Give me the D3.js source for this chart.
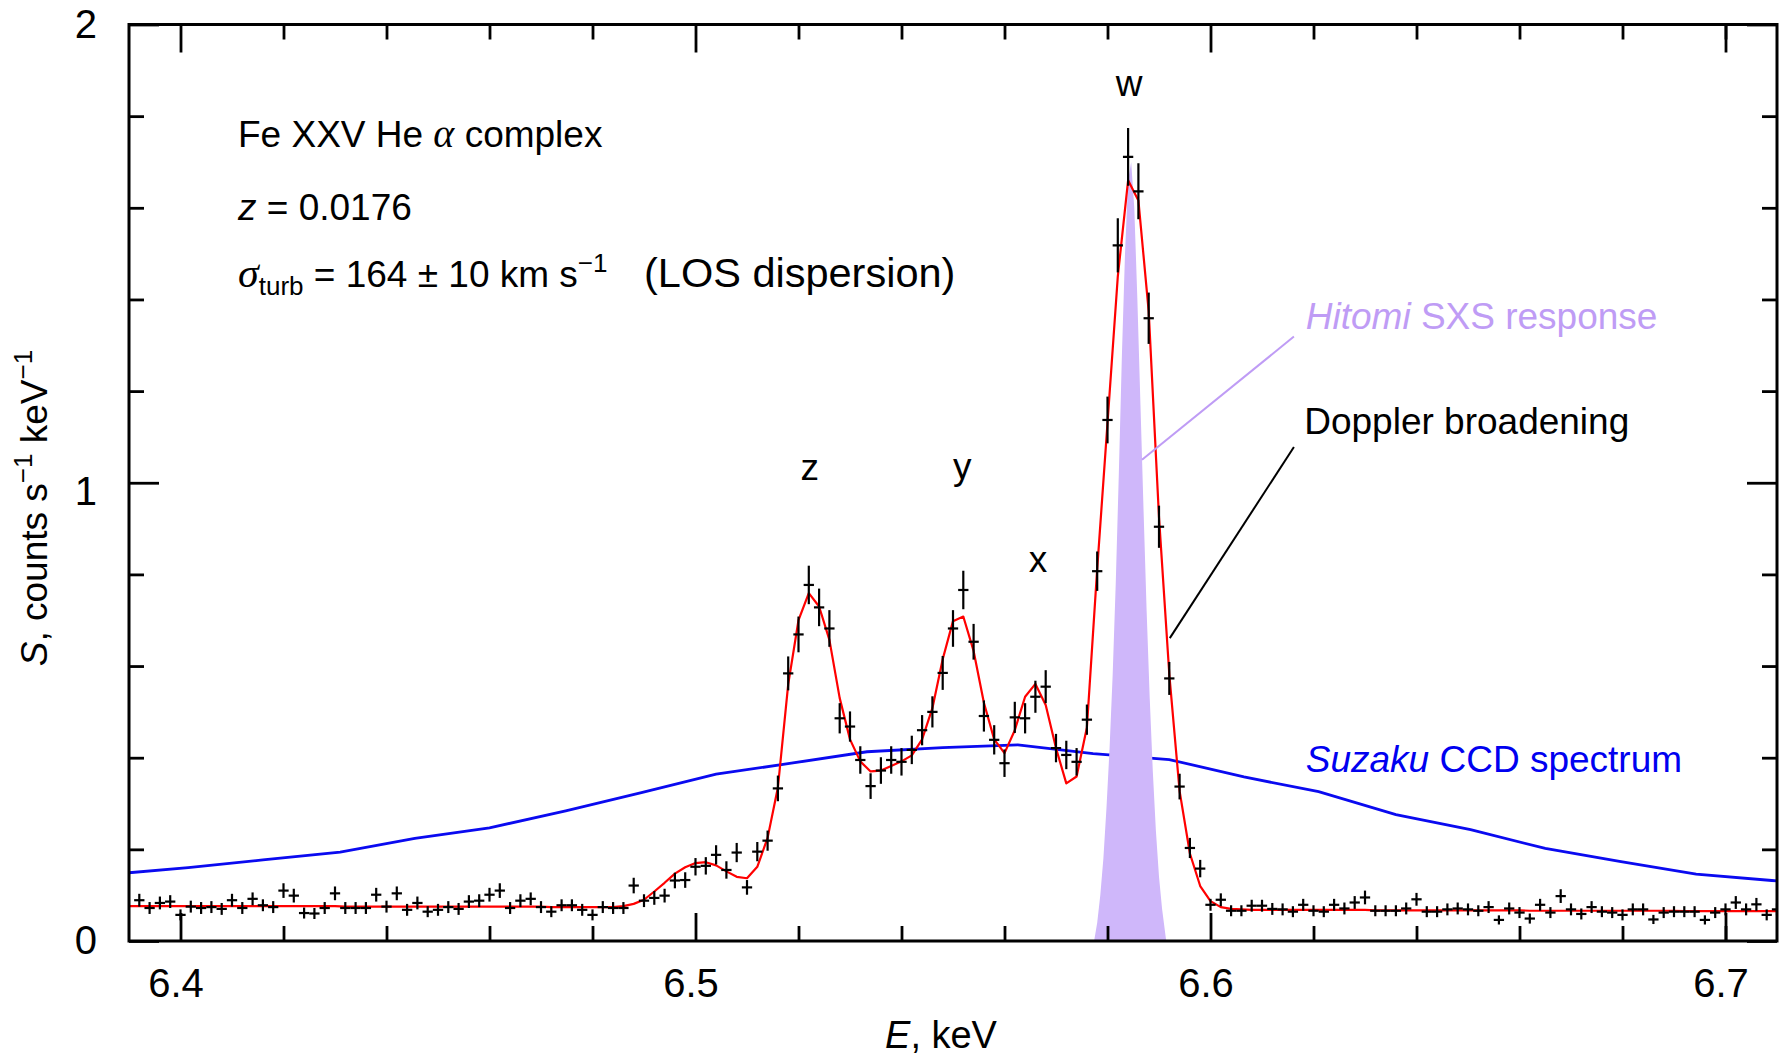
<!DOCTYPE html>
<html>
<head>
<meta charset="utf-8">
<script src="https://cdn.jsdelivr.net/npm/d3@7"></script>
<style>
  body { margin: 0; background: #fff; }
  svg { font-family: "Liberation Sans", Arial, Helvetica, sans-serif; }
</style>
</head>
<body>
<div id="chart"></div>
<script>
// bin centres (keV) of the Hitomi SXS spectrum
const energy = [
  6.390, 6.392, 6.394, 6.396, 6.398, 6.400, 6.402, 6.404, 6.406, 6.408,
  6.410, 6.412, 6.414, 6.416, 6.418, 6.420, 6.422, 6.424, 6.426, 6.428,
  6.430, 6.432, 6.434, 6.436, 6.438, 6.440, 6.442, 6.444, 6.446, 6.448,
  6.450, 6.452, 6.454, 6.456, 6.458, 6.460, 6.462, 6.464, 6.466, 6.468,
  6.470, 6.472, 6.474, 6.476, 6.478, 6.480, 6.482, 6.484, 6.486, 6.488,
  6.490, 6.492, 6.494, 6.496, 6.498, 6.500, 6.502, 6.504, 6.506, 6.508,
  6.510, 6.512, 6.514, 6.516, 6.518, 6.520, 6.522, 6.524, 6.526, 6.528,
  6.530, 6.532, 6.534, 6.536, 6.538, 6.540, 6.542, 6.544, 6.546, 6.548,
  6.550, 6.552, 6.554, 6.556, 6.558, 6.560, 6.562, 6.564, 6.566, 6.568,
  6.570, 6.572, 6.574, 6.576, 6.578, 6.580, 6.582, 6.584, 6.586, 6.588,
  6.590, 6.592, 6.594, 6.596, 6.598, 6.600, 6.602, 6.604, 6.606, 6.608,
  6.610, 6.612, 6.614, 6.616, 6.618, 6.620, 6.622, 6.624, 6.626, 6.628,
  6.630, 6.632, 6.634, 6.636, 6.638, 6.640, 6.642, 6.644, 6.646, 6.648,
  6.650, 6.652, 6.654, 6.656, 6.658, 6.660, 6.662, 6.664, 6.666, 6.668,
  6.670, 6.672, 6.674, 6.676, 6.678, 6.680, 6.682, 6.684, 6.686, 6.688,
  6.690, 6.692, 6.694, 6.696, 6.698, 6.700, 6.702, 6.704, 6.706, 6.708,
  6.710
];
// observed counts s^-1 keV^-1
const counts = [
  null,  0.089, 0.072, 0.083, 0.086, 0.057, 0.075, 0.072, 0.074, 0.070,
  0.089, 0.072, 0.092, 0.078, 0.074, 0.110, 0.099, 0.061, 0.060, 0.072,
  0.104, 0.072, 0.072, 0.072, 0.101, 0.075, 0.104, 0.068, 0.083, 0.064,
  0.068, 0.074, 0.070, 0.086, 0.088, 0.101, 0.110, 0.072, 0.088, 0.092,
  0.074, 0.064, 0.078, 0.078, 0.068, 0.057, 0.074, 0.072, 0.072, 0.121,
  0.088, 0.094, 0.099, 0.132, 0.133, 0.162, 0.164, 0.188, 0.155, 0.193,
  0.117, 0.195, 0.219, 0.333, 0.584, 0.669, 0.777, 0.728, 0.682, 0.486,
  0.468, 0.395, 0.338, 0.372, 0.395, 0.391, 0.417, 0.460, 0.500, 0.585,
  0.682, 0.766, 0.653, 0.491, 0.439, 0.388, 0.488, 0.486, 0.533, 0.555,
  0.421, 0.406, 0.391, 0.483, 0.807, 1.137, 1.518, 1.711, 1.636, 1.359,
  0.904, 0.573, 0.337, 0.203, 0.158, 0.079, 0.090, 0.066, 0.066, 0.077,
  0.077, 0.070, 0.069, 0.064, 0.079, 0.066, 0.064, 0.079, 0.071, 0.084,
  0.095, 0.066, 0.066, 0.066, 0.071, 0.091, 0.064, 0.064, 0.069, 0.071,
  0.069, 0.066, 0.074, 0.046, 0.071, 0.062, 0.049, 0.079, 0.062, 0.098,
  0.069, 0.059, 0.074, 0.064, 0.062, 0.057, 0.069, 0.069, 0.047, 0.062,
  0.064, 0.064, 0.064, 0.046, 0.062, 0.069, 0.084, 0.069, 0.080, 0.057,
  0.069
];
// 1-sigma error on counts
const errors = [
  null,  0.014, 0.013, 0.014, 0.014, 0.012, 0.013, 0.013, 0.013, 0.013,
  0.014, 0.013, 0.014, 0.013, 0.013, 0.016, 0.015, 0.012, 0.012, 0.013,
  0.015, 0.013, 0.013, 0.013, 0.015, 0.013, 0.015, 0.013, 0.014, 0.012,
  0.013, 0.013, 0.013, 0.014, 0.014, 0.015, 0.016, 0.013, 0.014, 0.014,
  0.013, 0.012, 0.013, 0.013, 0.013, 0.012, 0.013, 0.013, 0.013, 0.017,
  0.014, 0.015, 0.015, 0.017, 0.017, 0.019, 0.019, 0.021, 0.019, 0.021,
  0.016, 0.021, 0.022, 0.028, 0.037, 0.039, 0.042, 0.041, 0.040, 0.033,
  0.033, 0.030, 0.028, 0.029, 0.030, 0.030, 0.031, 0.033, 0.034, 0.037,
  0.040, 0.042, 0.039, 0.034, 0.032, 0.030, 0.034, 0.033, 0.035, 0.036,
  0.031, 0.031, 0.030, 0.033, 0.043, 0.051, 0.059, 0.063, 0.061, 0.056,
  0.046, 0.036, 0.028, 0.022, 0.019, 0.013, 0.014, 0.012, 0.012, 0.013,
  0.013, 0.013, 0.013, 0.012, 0.013, 0.012, 0.012, 0.013, 0.013, 0.014,
  0.015, 0.012, 0.012, 0.012, 0.013, 0.014, 0.012, 0.012, 0.013, 0.013,
  0.013, 0.012, 0.013, 0.010, 0.013, 0.012, 0.011, 0.013, 0.012, 0.015,
  0.013, 0.012, 0.013, 0.012, 0.012, 0.012, 0.013, 0.013, 0.010, 0.012,
  0.012, 0.012, 0.012, 0.010, 0.012, 0.013, 0.014, 0.013, 0.014, 0.012,
  0.013
];
// best-fit model with Doppler broadening
const model = [
  0.076, 0.076, 0.076, 0.076, 0.076, 0.076, 0.076, 0.076, 0.076, 0.076,
  0.076, 0.076, 0.076, 0.076, 0.076, 0.076, 0.076, 0.076, 0.076, 0.076,
  0.076, 0.075, 0.075, 0.075, 0.075, 0.075, 0.075, 0.075, 0.075, 0.075,
  0.075, 0.075, 0.075, 0.075, 0.075, 0.075, 0.075, 0.075, 0.075, 0.075,
  0.075, 0.074, 0.074, 0.074, 0.074, 0.074, 0.074, 0.074, 0.076, 0.081,
  0.090, 0.108, 0.127, 0.147, 0.161, 0.170, 0.172, 0.165, 0.152, 0.140,
  0.137, 0.162, 0.225, 0.335, 0.560, 0.700, 0.759, 0.730, 0.657, 0.530,
  0.440, 0.392, 0.370, 0.372, 0.382, 0.392, 0.405, 0.440, 0.508, 0.615,
  0.698, 0.708, 0.633, 0.520, 0.440, 0.410, 0.460, 0.533, 0.561, 0.515,
  0.421, 0.344, 0.359, 0.466, 0.812, 1.130, 1.450, 1.660, 1.616, 1.374,
  0.925, 0.582, 0.327, 0.191, 0.120, 0.087, 0.074, 0.070, 0.069, 0.068,
  0.068, 0.068, 0.068, 0.068, 0.068, 0.068, 0.068, 0.068, 0.068, 0.068,
  0.068, 0.067, 0.067, 0.067, 0.067, 0.067, 0.067, 0.067, 0.067, 0.067,
  0.067, 0.067, 0.067, 0.067, 0.067, 0.067, 0.066, 0.066, 0.066, 0.066,
  0.066, 0.066, 0.066, 0.066, 0.066, 0.066, 0.066, 0.066, 0.066, 0.066,
  0.066, 0.065, 0.065, 0.065, 0.065, 0.065, 0.065, 0.065, 0.065, 0.065,
  0.065
];
// Suzaku CCD spectrum
const suzakuE = [6.387, 6.4015, 6.416, 6.431, 6.4455, 6.460, 6.4748, 6.4895, 6.504, 6.5186,
                 6.5333, 6.548, 6.5626, 6.5772, 6.592, 6.6065, 6.621, 6.636, 6.6505, 6.665,
                 6.6797, 6.6943, 6.709, 6.7236];
const suzakuS = [0.146, 0.160, 0.177, 0.194, 0.224, 0.247, 0.284, 0.324, 0.364, 0.388,
                 0.413, 0.422, 0.428, 0.409, 0.396, 0.358, 0.326, 0.276, 0.243, 0.202,
                 0.173, 0.146, 0.132, 0.120];
// Hitomi SXS response profile
const hitomiE = [6.5774, 6.5780, 6.5786, 6.5792, 6.5798, 6.5804, 6.5810, 6.5816, 6.5822, 6.5828,
                 6.5834, 6.5840, 6.5846, 6.5852, 6.5858, 6.5864, 6.5870, 6.5876, 6.5882, 6.5888,
                 6.5894, 6.5900, 6.5906, 6.5914];
const hitomiS = [0.00, 0.04, 0.10, 0.18, 0.29, 0.42, 0.58, 0.78, 1.02, 1.28,
                 1.50, 1.66, 1.70, 1.60, 1.40, 1.17, 0.94, 0.72, 0.53, 0.37,
                 0.24, 0.14, 0.07, 0.00];

const xMajor = [6.4, 6.5, 6.6, 6.7];
const xMinor = [6.42, 6.44, 6.46, 6.48, 6.52, 6.54, 6.56, 6.58, 6.62, 6.64, 6.66, 6.68, 6.70];
const yMajor = [0, 1, 2];
const yMinor = [0.2, 0.4, 0.6, 0.8, 1.2, 1.4, 1.6, 1.8];

const lineNames = ['z', 'y', 'x', 'w'];
const lineNameE = [6.5222, 6.5518, 6.5665, 6.5842];
const lineNameS = [1.006, 1.008, 0.805, 1.844];

const W = 1788, H = 1057;
const margin = { top: 24.5, right: 11, bottom: 116, left: 129 };
const binHalf = 0.001;

const x = d3.scaleLinear().domain([6.39, 6.71]).range([margin.left, W - margin.right]);
const y = d3.scaleLinear().domain([0, 2]).range([H - margin.bottom, margin.top]);

const svg = d3.select('#chart').append('svg')
    .attr('width', W)
    .attr('height', H);

svg.append('defs').append('clipPath').attr('id', 'clip')
  .append('rect')
    .attr('x', x.range()[0]).attr('y', y.range()[1])
    .attr('width', x.range()[1] - x.range()[0])
    .attr('height', y.range()[0] - y.range()[1]);

const plot = svg.append('g').attr('clip-path', 'url(#clip)');

const line = d3.line().x(d => x(d[0])).y(d => y(d[1]));

// Suzaku CCD spectrum
plot.append('path')
    .datum(d3.zip(suzakuE, suzakuS))
    .attr('d', line)
    .attr('fill', 'none')
    .attr('stroke', '#0a0af0')
    .attr('stroke-width', 2.8);

// Hitomi SXS response
plot.append('path')
    .datum(d3.zip(hitomiE, hitomiS))
    .attr('d', d3.area().x(d => x(d[0])).y0(y(0)).y1(d => y(d[1])))
    .attr('fill', '#cfb7fa');

// model
plot.append('path')
    .datum(d3.zip(energy, model))
    .attr('d', line)
    .attr('fill', 'none')
    .attr('stroke', '#ff0000')
    .attr('stroke-width', 2.2)
    .attr('stroke-linejoin', 'round');

// data crosses
const pts = energy.map((e, i) => ({ e, s: counts[i], err: errors[i] })).filter(d => d.s != null);
const cross = plot.append('g').attr('stroke', '#000').attr('stroke-width', 2.2);
cross.selectAll('line.v').data(pts).join('line')
    .attr('class', 'v')
    .attr('x1', d => x(d.e)).attr('x2', d => x(d.e))
    .attr('y1', d => y(d.s - d.err)).attr('y2', d => y(d.s + d.err));
cross.selectAll('line.h').data(pts).join('line')
    .attr('class', 'h')
    .attr('x1', d => x(d.e - binHalf)).attr('x2', d => x(d.e + binHalf))
    .attr('y1', d => y(d.s)).attr('y2', d => y(d.s));

// axes, ticks inward on all four sides
const fixAxis = g => {
  g.select('.domain').remove();
  g.attr('font-family', null).attr('font-size', null);
  g.selectAll('.tick line').attr('stroke', '#000').attr('stroke-width', 2.8);
};
const bottomY = y.range()[0], topY = y.range()[1];
const leftX = x.range()[0], rightX = x.range()[1];

svg.append('g').attr('transform', `translate(0,${bottomY})`)
    .call(d3.axisBottom(x).tickValues(xMinor).tickSize(-15).tickFormat('')).call(fixAxis);
svg.append('g').attr('transform', `translate(0,${bottomY})`)
    .call(d3.axisBottom(x).tickValues(xMajor).tickSize(-28).tickPadding(27.5).tickFormat(d3.format('.1f')))
    .call(fixAxis)
    .call(g => g.selectAll('text').attr('font-size', 40).attr('fill', '#000').attr('dx', -5));
svg.append('g').attr('transform', `translate(0,${topY})`)
    .call(d3.axisTop(x).tickValues(xMinor).tickSize(-15).tickFormat('')).call(fixAxis);
svg.append('g').attr('transform', `translate(0,${topY})`)
    .call(d3.axisTop(x).tickValues(xMajor).tickSize(-28).tickFormat('')).call(fixAxis);

svg.append('g').attr('transform', `translate(${leftX},0)`)
    .call(d3.axisLeft(y).tickValues(yMinor).tickSize(-15).tickFormat('')).call(fixAxis);
svg.append('g').attr('transform', `translate(${leftX},0)`)
    .call(d3.axisLeft(y).tickValues(yMajor).tickSize(-30).tickPadding(32).tickFormat(d3.format('d')))
    .call(fixAxis)
    .call(g => g.selectAll('text').attr('font-size', 40).attr('fill', '#000')
      .attr('dy', d => d === 1 ? '0.55em' : '0.32em'));
svg.append('g').attr('transform', `translate(${rightX},0)`)
    .call(d3.axisRight(y).tickValues(yMinor).tickSize(-15).tickFormat('')).call(fixAxis);
svg.append('g').attr('transform', `translate(${rightX},0)`)
    .call(d3.axisRight(y).tickValues(yMajor).tickSize(-30).tickFormat('')).call(fixAxis);

// frame
svg.append('rect')
    .attr('x', leftX).attr('y', topY)
    .attr('width', rightX - leftX).attr('height', bottomY - topY)
    .attr('fill', 'none').attr('stroke', '#000').attr('stroke-width', 3);

// axis titles
const xt = svg.append('text')
    .attr('x', 941).attr('y', 1048)
    .attr('text-anchor', 'middle').attr('font-size', 38);
xt.append('tspan').attr('font-style', 'italic').text('E');
xt.append('tspan').text(', keV');

const yt = svg.append('text')
    .attr('transform', 'translate(47,508) rotate(-90)')
    .attr('text-anchor', 'middle').attr('font-size', 37);
yt.append('tspan').attr('font-style', 'italic').text('S');
yt.append('tspan').text(', counts s');
yt.append('tspan').attr('font-size', 26).attr('dy', -15).text('\u22121');
yt.append('tspan').attr('dy', 15).text(' keV');
yt.append('tspan').attr('font-size', 26).attr('dy', -15).text('\u22121');

// info block
const serif = '"Liberation Serif", "Times New Roman", serif';
const t1 = svg.append('text').attr('x', 238).attr('y', 147).attr('font-size', 37);
t1.append('tspan').text('Fe XXV He ');
t1.append('tspan').attr('font-family', serif).attr('font-style', 'italic').attr('font-size', 40).text('\u03b1');
t1.append('tspan').text(' complex');

const t2 = svg.append('text').attr('x', 238).attr('y', 220).attr('font-size', 37);
t2.append('tspan').attr('font-style', 'italic').text('z');
t2.append('tspan').text(' = 0.0176');

const t3 = svg.append('text').attr('x', 238).attr('y', 287).attr('font-size', 37);
t3.append('tspan').attr('font-family', serif).attr('font-style', 'italic').attr('font-size', 42).text('\u03c3');
t3.append('tspan').attr('font-size', 26).attr('dy', 8).text('turb');
t3.append('tspan').attr('dy', -8).text(' = 164 \u00b1 10 km s');
t3.append('tspan').attr('font-size', 26).attr('dy', -15).text('\u22121');
t3.append('tspan').attr('x', 644).attr('dy', 15).attr('font-size', 41.5).text('(LOS dispersion)');

// line identifications
svg.append('g').attr('font-size', 37).attr('text-anchor', 'middle')
  .selectAll('text').data(lineNames).join('text')
    .attr('x', (d, i) => x(lineNameE[i]))
    .attr('y', (d, i) => y(lineNameS[i]))
    .text(d => d);

// annotations
const lavender = '#bf9cf5';
svg.append('line')
    .attr('x1', x(6.6162)).attr('y1', y(1.319))
    .attr('x2', x(6.5867)).attr('y2', y(1.050))
    .attr('stroke', lavender).attr('stroke-width', 2);
svg.append('line')
    .attr('x1', x(6.6162)).attr('y1', y(1.078))
    .attr('x2', x(6.5921)).attr('y2', y(0.661))
    .attr('stroke', '#000').attr('stroke-width', 2);

const hl = svg.append('text').attr('x', x(6.6185)).attr('y', y(1.335))
    .attr('font-size', 37).attr('fill', lavender);
hl.append('tspan').attr('font-style', 'italic').text('Hitomi');
hl.append('tspan').text(' SXS response');

svg.append('text').attr('x', x(6.6182)).attr('y', y(1.106))
    .attr('font-size', 37).attr('fill', '#000').text('Doppler broadening');

const sl = svg.append('text').attr('x', x(6.6185)).attr('y', y(0.3695))
    .attr('font-size', 37).attr('fill', '#0000f0');
sl.append('tspan').attr('font-style', 'italic').text('Suzaku');
sl.append('tspan').text(' CCD spectrum');
</script>
</body>
</html>
